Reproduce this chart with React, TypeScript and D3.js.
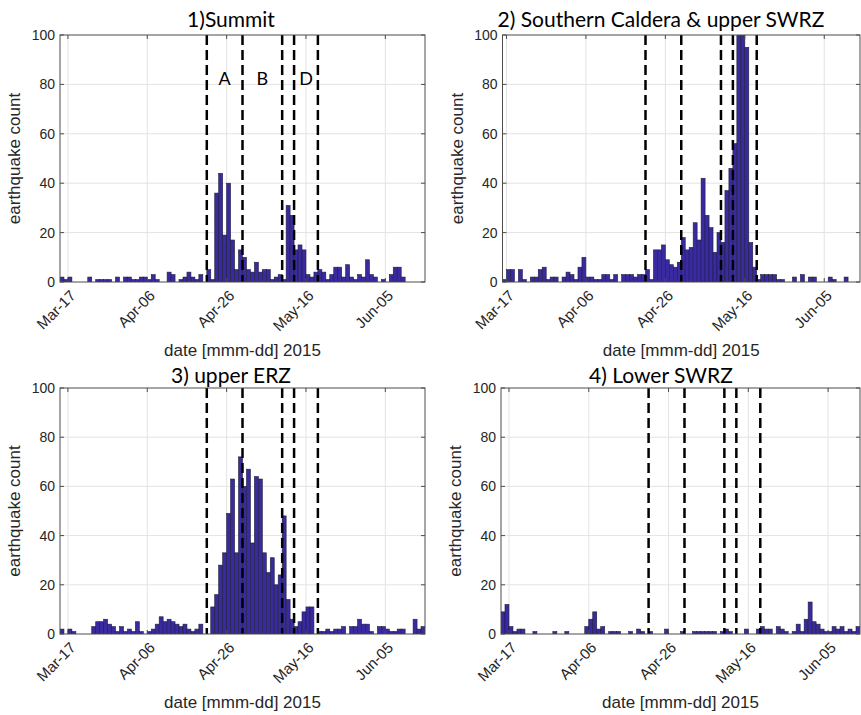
import React, { useEffect, useRef } from 'react';
import * as d3 from 'd3';

// daily earthquake counts, one value per day from the series start date
const summitStart = '2015-03-15';
const summitCounts = [
  2, 1, 2, 0, 0, 0, 0, 2, 0, 1, 1, 1, 1, 0, 2, 0, 2, 2, 1, 1,
  2, 2, 1, 3, 1, 0, 0, 4, 3, 0, 1, 2, 4, 2, 1, 3, 0, 5, 1, 36,
  44, 19, 40, 17, 5, 13, 10, 5, 4, 8, 4, 5, 5, 1, 2, 3, 1, 31, 27, 13,
  15, 13, 3, 2, 4, 5, 4, 1, 3, 6, 6, 2, 7, 2, 1, 3, 2, 9, 3, 2,
  0, 1, 0, 3, 6, 6, 2, 0, 0, 0, 0, 0,
];

const calderaStart = '2015-03-16';
const calderaCounts = [
  1, 5, 5, 0, 5, 1, 0, 2, 2, 5, 6, 1, 2, 2, 0, 2, 4, 3, 1, 6,
  10, 2, 2, 1, 1, 3, 3, 1, 3, 0, 3, 3, 3, 2, 3, 3, 5, 1, 13, 13,
  15, 9, 7, 6, 8, 18, 13, 14, 24, 17, 42, 27, 22, 12, 20, 16, 37, 46, 56, 120,
  115, 95, 16, 6, 1, 3, 3, 3, 3, 1, 1, 0, 0, 2, 0, 3, 0, 2, 2, 0,
  0, 0, 2, 1, 0, 0, 2, 0, 0, 0,
];

const upperErzStart = '2015-03-15';
const upperErzCounts = [
  2, 0, 2, 1, 0, 0, 0, 0, 3, 5, 5, 6, 4, 3, 1, 3, 1, 2, 1, 5,
  1, 0, 1, 2, 4, 7, 5, 6, 5, 4, 3, 4, 2, 1, 2, 4, 0, 0, 11, 16,
  28, 33, 49, 63, 33, 72, 60, 67, 37, 64, 63, 33, 25, 31, 20, 24, 48, 14, 6, 3,
  5, 9, 11, 11, 0, 1, 1, 2, 1, 2, 2, 3, 0, 3, 3, 6, 4, 4, 1, 0,
  3, 3, 2, 1, 1, 2, 2, 0, 0, 6, 2, 3,
];

const lowerSwrzStart = '2015-03-15';
const lowerSwrzCounts = [
  9, 12, 3, 1, 2, 2, 0, 0, 1, 0, 0, 0, 0, 1, 0, 0, 1, 0, 0, 0,
  0, 3, 6, 9, 2, 3, 0, 1, 1, 1, 0, 0, 1, 0, 2, 1, 0, 1, 0, 0,
  0, 2, 0, 0, 0, 1, 0, 0, 1, 1, 1, 1, 1, 1, 0, 1, 2, 1, 0, 0,
  0, 2, 0, 0, 2, 3, 2, 2, 0, 3, 2, 1, 0, 1, 4, 1, 6, 13, 5, 4,
  2, 1, 1, 3, 2, 3, 1, 2, 1, 3,
];

// phase boundaries (dashed lines) and phase names
const phaseBoundaries = ['2015-04-21', '2015-04-30', '2015-05-10', '2015-05-13', '2015-05-19'];
const phaseLabels = ['A', 'B', 'D'];
const phaseFrom = ['2015-04-21', '2015-04-30', '2015-05-13'];
const phaseTo = ['2015-04-30', '2015-05-10', '2015-05-19'];

const xTickDates = ['2015-03-17', '2015-04-06', '2015-04-26', '2015-05-16', '2015-06-05'];
const yTicks = [0, 20, 40, 60, 80, 100];

const titles = ['1)Summit', '2) Southern Caldera & upper SWRZ', '3) upper ERZ', '4) Lower SWRZ'];

const parse = d3.utcParse('%Y-%m-%d');
const fmt = d3.utcFormat('%b-%d');

const W = 861;
const H = 715;
const AXIS_FONT = '"Liberation Sans", Arial, sans-serif';
const TITLE_FONT = 'Lato, "Open Sans", sans-serif';
const TEXT_COLOR = '#262626';

const panels = [
  { title: titles[0], start: summitStart, counts: summitCounts, xMin: '2015-03-15', xMax: '2015-06-15', left: 60, right: 425, top: 35, bottom: 282, titleX: 231, titleY: 27, labels: true },
  { title: titles[1], start: calderaStart, counts: calderaCounts, xMin: '2015-03-16', xMax: '2015-06-14', left: 502.5, right: 860, top: 35, bottom: 282, titleX: 661, titleY: 27, labels: false },
  { title: titles[2], start: upperErzStart, counts: upperErzCounts, xMin: '2015-03-15', xMax: '2015-06-15', left: 60, right: 425, top: 388, bottom: 634, titleX: 231, titleY: 383, labels: false },
  { title: titles[3], start: lowerSwrzStart, counts: lowerSwrzCounts, xMin: '2015-03-15', xMax: '2015-06-13', left: 501, right: 860, top: 388, bottom: 634, titleX: 661, titleY: 383, labels: false },
];

const App = () => {
  const svgRef = useRef<SVGSVGElement>(null);

  useEffect(() => {
    if (!svgRef.current) return;
    const svg = d3.select(svgRef.current);
    svg.selectAll('*').remove();

    panels.forEach((p, pi) => {
      const x = d3.scaleUtc()
        .domain([parse(p.xMin)!, parse(p.xMax)!])
        .range([p.left, p.right]);
      const y = d3.scaleLinear().domain([0, 100]).range([p.bottom, p.top]);

      const g = svg.append('g');

      // clip so bars over 100 get cut at the top
      const clipId = `clip-${pi}`;
      svg.append('defs').append('clipPath').attr('id', clipId)
        .append('rect')
        .attr('x', p.left).attr('y', p.top)
        .attr('width', p.right - p.left).attr('height', p.bottom - p.top);

      // grid
      g.selectAll('.gy').data(yTicks.slice(1, -1)).join('line')
        .attr('x1', p.left).attr('x2', p.right)
        .attr('y1', d => y(d)).attr('y2', d => y(d))
        .attr('stroke', '#e3e3e3').attr('stroke-width', 1);
      g.selectAll('.gx').data(xTickDates.map(d => parse(d)!)).join('line')
        .attr('x1', d => x(d)).attr('x2', d => x(d))
        .attr('y1', p.top).attr('y2', p.bottom)
        .attr('stroke', '#e3e3e3').attr('stroke-width', 1);

      // bars
      const start = parse(p.start)!;
      const bins = p.counts.map((c, i) => ({
        x0: d3.utcDay.offset(start, i),
        x1: d3.utcDay.offset(start, i + 1),
        c,
      }));
      g.append('g').attr('clip-path', `url(#${clipId})`)
        .selectAll('rect').data(bins.filter(b => b.c > 0)).join('rect')
        .attr('x', d => x(d.x0))
        .attr('width', d => x(d.x1) - x(d.x0))
        .attr('y', d => y(d.c))
        .attr('height', d => y(0) - y(d.c))
        .attr('fill', '#3a2aa0')
        .attr('stroke', '#1e1e3c')
        .attr('stroke-width', 0.6);

      // dashed phase lines
      g.selectAll('.ph').data(phaseBoundaries.map(d => parse(d)!)).join('line')
        .attr('x1', d => x(d)).attr('x2', d => x(d))
        .attr('y1', p.top).attr('y2', p.bottom)
        .attr('stroke', '#000').attr('stroke-width', 2.5)
        .attr('stroke-dasharray', '10,5');

      if (p.labels) {
        g.selectAll('.pl').data(phaseLabels).join('text')
          .attr('x', (d, i) => (x(parse(phaseFrom[i])!) + x(parse(phaseTo[i])!)) / 2)
          .attr('y', 85)
          .attr('text-anchor', 'middle')
          .attr('font-family', TITLE_FONT)
          .attr('font-size', 18)
          .attr('fill', '#000')
          .text(d => d);
      }

      // axes box
      g.append('rect')
        .attr('x', p.left).attr('y', p.top)
        .attr('width', p.right - p.left).attr('height', p.bottom - p.top)
        .attr('fill', 'none').attr('stroke', '#4d4d4d').attr('stroke-width', 1);

      // ticks (inward, all sides)
      const tl = 4;
      yTicks.forEach(t => {
        g.append('line').attr('x1', p.left).attr('x2', p.left + tl)
          .attr('y1', y(t)).attr('y2', y(t)).attr('stroke', '#4d4d4d');
        g.append('line').attr('x1', p.right).attr('x2', p.right - tl)
          .attr('y1', y(t)).attr('y2', y(t)).attr('stroke', '#4d4d4d');
      });
      xTickDates.forEach(ds => {
        const xv = x(parse(ds)!);
        g.append('line').attr('x1', xv).attr('x2', xv)
          .attr('y1', p.bottom).attr('y2', p.bottom - tl).attr('stroke', '#4d4d4d');
        g.append('line').attr('x1', xv).attr('x2', xv)
          .attr('y1', p.top).attr('y2', p.top + tl).attr('stroke', '#4d4d4d');
      });

      // y tick labels
      g.selectAll('.yl').data(yTicks).join('text')
        .attr('x', p.left - 5)
        .attr('y', d => y(d))
        .attr('dy', '0.35em')
        .attr('text-anchor', 'end')
        .attr('font-family', AXIS_FONT)
        .attr('font-size', 14)
        .attr('fill', TEXT_COLOR)
        .text(d => d);

      // x tick labels, rotated
      g.selectAll('.xl').data(xTickDates.map(d => parse(d)!)).join('text')
        .attr('transform', d => `translate(${x(d) + 5},${p.bottom + 11}) rotate(-45)`)
        .attr('dy', '0.35em')
        .attr('text-anchor', 'end')
        .attr('font-family', AXIS_FONT)
        .attr('font-size', 15)
        .attr('fill', TEXT_COLOR)
        .text(d => fmt(d));

      // axis labels
      g.append('text')
        .attr('x', (p.left + p.right) / 2)
        .attr('y', p.bottom + 74)
        .attr('text-anchor', 'middle')
        .attr('font-family', AXIS_FONT)
        .attr('font-size', 17)
        .attr('fill', TEXT_COLOR)
        .text('date [mmm-dd] 2015');
      g.append('text')
        .attr('transform', `translate(${p.left - 40},${(p.top + p.bottom) / 2}) rotate(-90)`)
        .attr('text-anchor', 'middle')
        .attr('font-family', AXIS_FONT)
        .attr('font-size', 17)
        .attr('fill', TEXT_COLOR)
        .text('earthquake count');

      // title
      g.append('text')
        .attr('x', p.titleX)
        .attr('y', p.titleY)
        .attr('text-anchor', 'middle')
        .attr('font-family', TITLE_FONT)
        .attr('font-size', 21)
        .attr('fill', '#000')
        .text(p.title);
    });
  }, []);

  return (
    <div style={{ position: 'absolute', left: 0, top: 0, width: W, height: H, background: '#fff' }}>
      <svg ref={svgRef} width={W} height={H} viewBox={`0 0 ${W} ${H}`}></svg>
    </div>
  );
};

export default App;
